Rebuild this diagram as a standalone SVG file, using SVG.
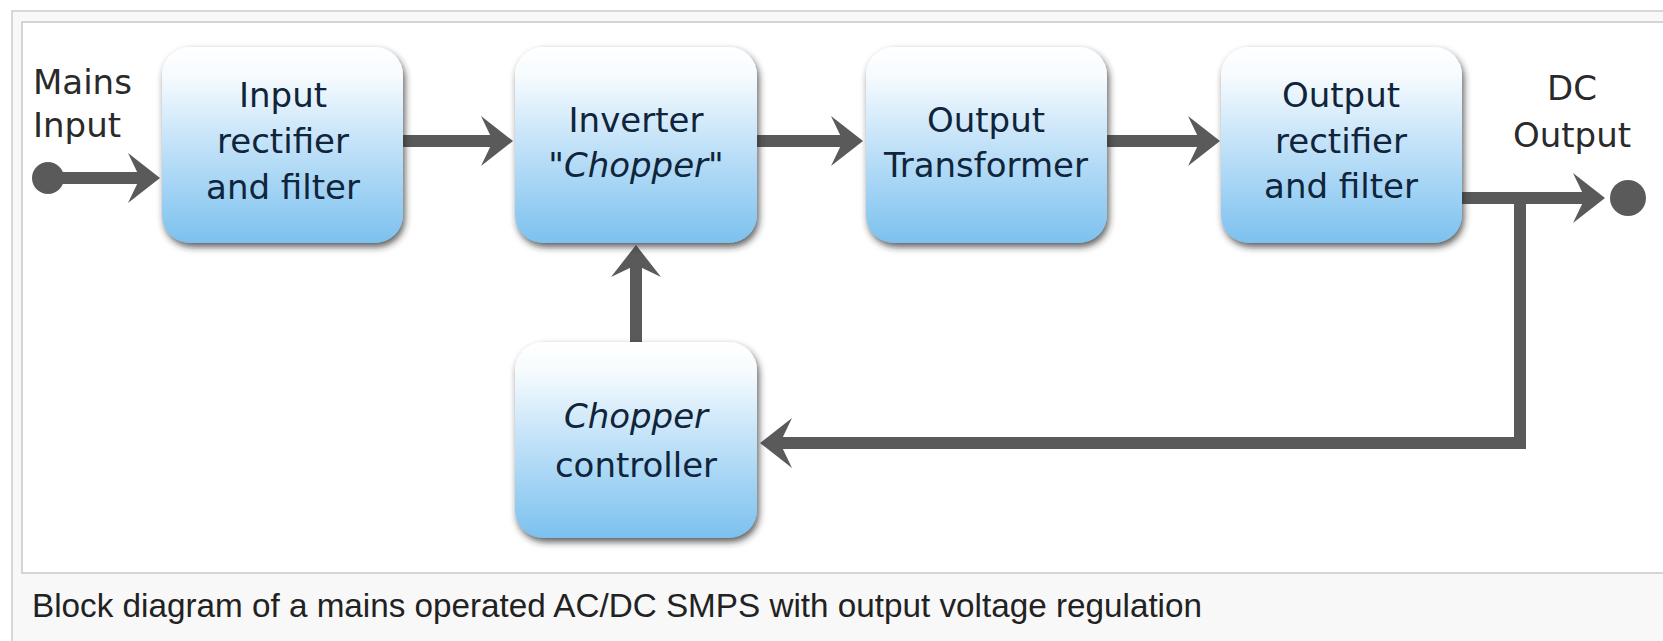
<svg xmlns="http://www.w3.org/2000/svg" width="1663" height="641" viewBox="0 0 1663 641">
<defs>
<linearGradient id="nodeFill" x1="0" y1="0" x2="0" y2="1">
<stop offset="0" stop-color="#ffffff"/>
<stop offset="0.15" stop-color="#f6fbfe"/>
<stop offset="0.45" stop-color="#c9e5f9"/>
<stop offset="1" stop-color="#7cc1ef"/>
</linearGradient>
<filter id="shadow" x="-10%" y="-10%" width="125%" height="130%">
<feDropShadow dx="2" dy="4" stdDeviation="3.5" flood-color="#2b2b2b" flood-opacity="0.75"/>
</filter>
<marker id="arrow" viewBox="-34 -27 36 54" refX="-20" refY="0" markerWidth="36" markerHeight="54" markerUnits="userSpaceOnUse" orient="auto">
<path d="M0,0 L-32,-25 L-20,0 L-32,25 Z" fill="#5a5a5a"/>
</marker>
</defs>
<style>
.node rect{fill:url(#nodeFill);filter:url(#shadow);}
.nt{font-family:"DejaVu Sans",Verdana,sans-serif;font-size:34px;fill:#10243a;text-anchor:middle;}
.it{font-style:italic;}
.lbl{font-family:"DejaVu Sans",Verdana,sans-serif;font-size:34px;fill:#2a2a2a;}
.conn{fill:none;stroke:#5a5a5a;stroke-width:12;stroke-linejoin:miter;}
.dot{fill:#5a5a5a;}
.cap{font-family:"Liberation Sans",Arial,sans-serif;font-size:33px;fill:#222;}
</style>
<rect x="12" y="11" width="1700" height="660" fill="#f8f8f8" stroke="#cccccc" stroke-width="1.5"/>
<rect x="22" y="22" width="1700" height="551" fill="#ffffff" stroke="#c8c8c8" stroke-width="1.5"/>
<g id="connectors">
<circle class="dot" cx="48" cy="178" r="16"/>
<path class="conn" d="M48,178 H140" marker-end="url(#arrow)"/>
<path class="conn" d="M403,141 H493" marker-end="url(#arrow)"/>
<path class="conn" d="M757,141 H843" marker-end="url(#arrow)"/>
<path class="conn" d="M1107,141 H1200" marker-end="url(#arrow)"/>
<path class="conn" d="M1462,198 H1585" marker-end="url(#arrow)"/>
<circle class="dot" cx="1628" cy="198" r="18"/>
<path class="conn" d="M1520,192 V443 H780" marker-end="url(#arrow)"/>
<path class="conn" d="M636,342 V265" marker-end="url(#arrow)"/>
</g>
<g id="label-mains">
<text class="lbl" x="33" y="94">Mains</text>
<text class="lbl" x="33" y="137">Input</text>
</g>
<g id="label-dc">
<text class="lbl" x="1572" y="100" text-anchor="middle" font-size="36">DC</text>
<text class="lbl" x="1572" y="147" text-anchor="middle" font-size="36">Output</text>
</g>
<g id="node-input-rectifier" class="node">
<rect x="162" y="47" width="241" height="196" rx="28"/>
<text class="nt" x="283" y="107">Input</text>
<text class="nt" x="283" y="153">rectifier</text>
<text class="nt" x="283" y="199">and filter</text>
</g>
<g id="node-inverter" class="node">
<rect x="515" y="47" width="242" height="196" rx="28"/>
<text class="nt" x="636" y="132">Inverter</text>
<text class="nt it" x="636" y="177">"Chopper"</text>
</g>
<g id="node-transformer" class="node">
<rect x="866" y="47" width="241" height="196" rx="28"/>
<text class="nt" x="986" y="132">Output</text>
<text class="nt" x="986" y="177">Transformer</text>
</g>
<g id="node-output-rectifier" class="node">
<rect x="1221" y="47" width="241" height="196" rx="28"/>
<text class="nt" x="1341" y="107">Output</text>
<text class="nt" x="1341" y="153">rectifier</text>
<text class="nt" x="1341" y="198">and filter</text>
</g>
<g id="node-controller" class="node">
<rect x="515" y="342" width="242" height="196" rx="28"/>
<text class="nt it" x="636" y="428">Chopper</text>
<text class="nt" x="636" y="477">controller</text>
</g>
<text class="cap" x="32" y="617" textLength="1170" lengthAdjust="spacingAndGlyphs">Block diagram of a mains operated AC/DC SMPS with output voltage regulation</text>
</svg>
